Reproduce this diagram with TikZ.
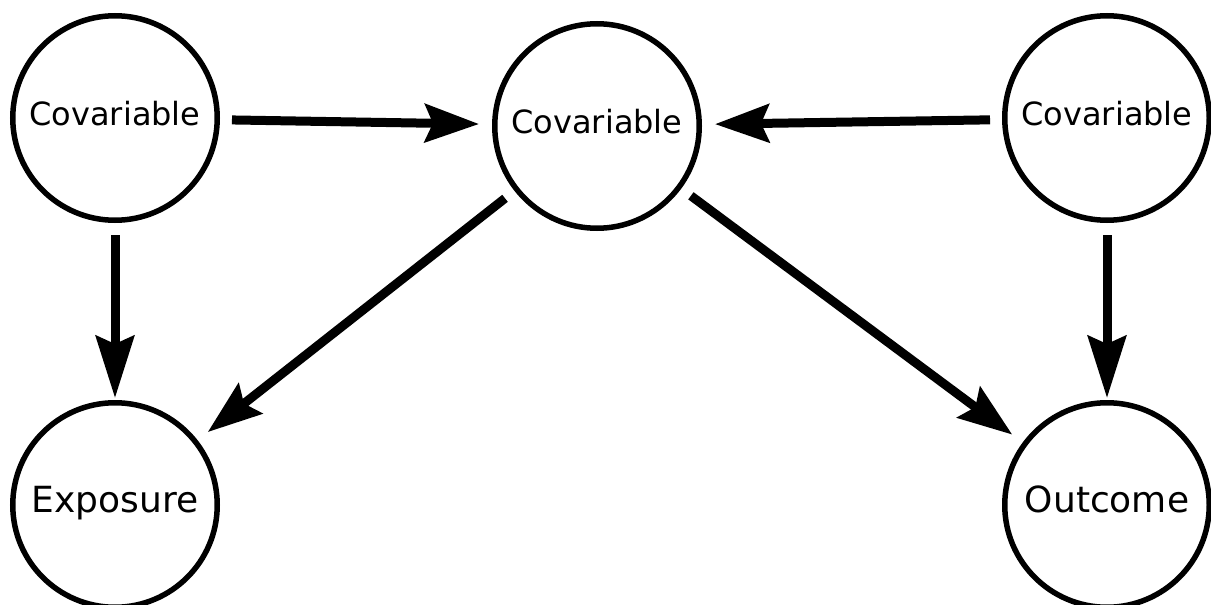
\documentclass[tikz,border=0pt]{standalone}
\usepackage{fontspec}
\setmainfont{DejaVu Sans}
\usetikzlibrary{
  arrows.meta,
  positioning,
}
\tikzstyle{arrow} = [
  -{Stealth[length=27pt, width=19pt, inset=4pt]},
  line width=4.5pt,
  shorten >=6.5pt,
  shorten <=6pt,
]
\tikzstyle{down} = [
  -{Stealth[length=31pt, width=19pt, inset=4pt]},
  shorten >=1pt,
]

\begin{document}
\begin{tikzpicture}[x=0.5pt, y=-0.5pt,
                    var/.style={draw, circle, line width=2.75pt,
                                minimum size=102.25pt, inner sep=0pt,
                                text height=0.95em, text depth=0.2em,
                                font=\fontsize{16}{19}\selectfont},
                    main/.style={var, font=\fontsize{18}{22}\selectfont},
                    node distance=88.5pt]
    \useasboundingbox (0,0) rectangle (1211,605);
    \node [var] (covl) at (115,118) {Covariable};
    \node [var] (covm) at (597,126) {Covariable};
    \node [var] (covr) at (1107,118) {Covariable};
    \node [main, below=of covl] (expo) {Exposure};
    \node [main, below=of covr] (outc) {Outcome};
    \draw [arrow] (covl) -- (covm);
    \draw [arrow] (covr) -- (covm);
    \draw [arrow] (covm) -- (expo);
    \draw [arrow] (covm) -- (outc);
    \draw [arrow, down] (covl) -- (expo);
    \draw [arrow, down] (covr) -- (outc);
  \end{tikzpicture}
\end{document}
